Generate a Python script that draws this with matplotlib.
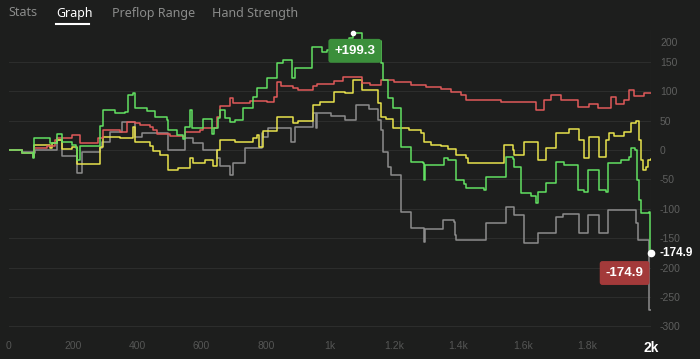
import matplotlib
matplotlib.use("Agg")
import matplotlib.pyplot as plt

# ---------------------------------------------------------------------------
# Data — cumulative winnings (big blinds) per hand
# ---------------------------------------------------------------------------

GREEN_X = [0, 40, 75, 78, 128, 150, 165, 197, 209, 212, 222, 284, 293, 331, 362, 371,
           387, 393, 431, 456, 493, 496, 524, 543, 549, 565, 571, 605, 633, 640, 652,
           658, 674, 690, 705, 730, 761, 774, 805, 836, 855, 883, 892, 945, 975, 992,
           1020, 1060, 1073, 1101, 1158, 1164, 1182, 1195, 1220, 1251, 1289, 1292, 1295,
           1354, 1367, 1392, 1416, 1423, 1479, 1485, 1548, 1569, 1572, 1594, 1626, 1641,
           1647, 1672, 1704, 1729, 1772, 1791, 1803, 1838, 1860, 1866, 1906, 1931, 1938,
           1950, 1956, 1962, 1969, 1994, 1996, 2000]
GREEN_Y = [0, -5, -13.6, 20.4, 11.9, 27.2, 13.6, 8.5, 3.4, -17, 6.8, 40.8, 68, 62.9, 64.6,
           93.5, 96.9, 71.4, 66.3, 56.1, 51, 34, 25.5, 18.7, 39.1, 68, 37.4, 52.7, 27.2,
           37.4, 54.4, 68, 54.4, 47.6, 51, 71.4, 90.1, 105.4, 122.4, 147.9, 153, 122.4,
           139.4, 175.1, 166.6, 170, 180, 190, 199.3, 185, 147.9, 119, 88.4, 71.4, 5.1,
           -20.4, -22.1, -51, -25.5, -13.6, -17, -51, -57.8, -64.6, -68, -45.9, -11.9,
           -15.3, -28.9, -73.1, -78.2, -90.1, -71.4, -56.1, -20.4, -25.5, -68, -71.4,
           -34, -68, -71.4, -22.1, -17, -11.9, 3.4, 0, -51, -85, -107.1, -105.4,
           -174.9, -174.9]

RED_X = [0, 40, 75, 78, 118, 144, 150, 197, 222, 278, 293, 346, 368, 393, 409, 440, 449,
         462, 502, 543, 549, 596, 605, 649, 658, 690, 699, 752, 805, 824, 836, 846, 886,
         899, 948, 961, 1011, 1042, 1101, 1126, 1158, 1198, 1251, 1298, 1345, 1376, 1407,
         1423, 1532, 1641, 1666, 1688, 1719, 1772, 1806, 1835, 1875, 1891, 1916, 1931,
         1947, 1978, 2000]
RED_Y = [0, -5, -11.9, 3.4, 6.8, 17, 20.4, 25.5, 11.9, 20.4, 34, 30.6, 47.6, 45.9, 42.5,
         39.1, 34, 27.2, 23.8, 22.1, 30.6, 34, 37.4, 56.1, 74.8, 88.4, 79.9, 83.3, 81.6,
         90.1, 115.6, 108.8, 105.4, 102, 108.8, 112.2, 117.3, 124.1, 113.9, 110.5, 119,
         115.6, 110.5, 107.1, 103.7, 98.6, 93.5, 85, 81.6, 68, 85, 93.5, 85, 73.1, 78.2,
         71.4, 90.1, 78.2, 85, 102, 91.8, 96.9, 96.9]

YELLOW_X = [0, 40, 75, 78, 128, 134, 150, 165, 197, 212, 284, 293, 346, 387, 393, 440,
            449, 471, 496, 527, 565, 574, 611, 637, 649, 658, 705, 761, 774, 780, 792,
            836, 886, 899, 948, 970, 1011, 1048, 1073, 1101, 1151, 1158, 1173, 1195,
            1245, 1282, 1292, 1314, 1345, 1367, 1392, 1423, 1429, 1541, 1569, 1572, 1604,
            1647, 1672, 1704, 1744, 1775, 1791, 1806, 1838, 1860, 1869, 1884, 1916, 1938,
            1953, 1962, 1969, 1975, 1984, 1991, 2000]
YELLOW_Y = [0, -5, -11.9, 8.5, 3.4, 11.9, 17, 1.7, 5.1, -23.8, 5.1, 22.1, 20.4, 39.1,
            13.6, 6.8, -1.7, -8.5, -34, -30.6, -13.6, -22.1, -17, -27.2, 0, 17, 13.6,
            20.4, 25.5, 5.1, 32.3, 56.1, 45.9, 49.3, 76.5, 81.6, 98.6, 96.9, 119, 102,
            79.9, 56.1, 52.7, 37.4, 34, 28.9, 13.6, 8.5, 6.8, 1.7, -8.5, -13.6, -22.1,
            8.5, 0, -8.5, 13.6, -17, 3.4, 28.9, 35.7, 17, -13.6, 22.1, -11.9, 17, 28.9,
            23.8, 30.6, 45.9, 49.3, 17, -17, -34, -28.9, -17, -15]

GRAY_X = [0, 40, 75, 81, 150, 165, 212, 228, 284, 290, 315, 353, 393, 415, 496, 549,
          574, 605, 649, 658, 690, 699, 736, 789, 792, 808, 877, 892, 948, 955, 961,
          1002, 1048, 1080, 1120, 1151, 1158, 1164, 1182, 1189, 1220, 1251, 1292, 1295,
          1351, 1385, 1388, 1392, 1485, 1548, 1572, 1604, 1647, 1704, 1725, 1775, 1803,
          1838, 1866, 1953, 1959, 1994, 2000]
GRAY_Y = [0, -3, -5.1, 0, 17, -10.2, -39.1, -3.4, 3.4, 13.6, 30.6, 47.6, 22.1, 28.9, 0,
          20.4, 11.9, 0, -13.6, -27.2, -42.5, -22.1, 3.4, 28.9, 22.1, 37.4, 13.6, 39.1,
          62.9, 37.4, 62.9, 57.8, 51, 76.5, 69.7, 51, 34, -3.4, -28.9, -42.5, -105.4,
          -132.6, -156.4, -134.3, -119, -122.4, -144.5, -153, -124.1, -96.9, -110.5,
          -158.1, -141.1, -113.9, -108.8, -141.1, -110.5, -141.1, -102, -124.1, -153,
          -272, -272]

TABS = ["Stats", "Graph", "Preflop Range", "Hand Strength"]
X_TICKS = [0, 200, 400, 600, 800, 1000, 1200, 1400, 1600, 1800, 2000]
X_LABELS = ["0", "200", "400", "600", "800", "1k", "1.2k", "1.4k", "1.6k", "1.8k", "2k"]
Y_TICKS = [-300, -250, -200, -150, -100, -50, 0, 50, 100, 150]

PEAK_X, PEAK_Y = 1073, 199.3
END_X, END_Y = 2000, -174.9

BG = "#1d1e1d"
GRID = "#2c2d2c"

fig = plt.figure(figsize=(7, 3.59), dpi=100)
fig.patch.set_facecolor(BG)
ax = fig.add_axes([9 / 700, 29 / 359, 642 / 700, 300 / 359])
ax.set_facecolor(BG)
for s in ax.spines.values():
    s.set_visible(False)

ax.set_xlim(0, 2000)
ax.set_ylim(-306, 204)

# grid
for v in Y_TICKS:
    ax.axhline(v, color=GRID, lw=0.8, zorder=0)
ax.axvline(2000, color="#303130", lw=0.8, zorder=0)

# series
ax.step(GRAY_X, GRAY_Y, where="post", color="#8c8c8c", lw=1.1, zorder=2)
ax.step(YELLOW_X, YELLOW_Y, where="post", color="#e8e24c", lw=1.1, zorder=3)
ax.step(RED_X, RED_Y, where="post", color="#e05a5a", lw=1.1, zorder=4)
ax.step(GREEN_X, GREEN_Y, where="post", color="#62e062", lw=1.1, zorder=5)

# axes ticks
ax.yaxis.tick_right()
ax.set_yticks(Y_TICKS)
ax.set_yticklabels([str(v) for v in Y_TICKS])
ax.tick_params(axis="y", length=0, pad=6.5, labelsize=7.5, labelcolor="#5e5f5e")
ax.annotate("200", xy=(1, 200), xycoords=("axes fraction", "data"),
            xytext=(6.5, -8), textcoords="offset points", va="center",
            fontsize=7.5, color="#5e5f5e", family="Liberation Sans")
ax.set_xticks(X_TICKS)
ax.set_xticklabels(X_LABELS)
ax.tick_params(axis="x", length=0, pad=8, labelsize=7.5, labelcolor="#555655")
for lab in ax.get_xticklabels() + ax.get_yticklabels():
    lab.set_family("Liberation Sans")
last = ax.get_xticklabels()[-1]
last.set_color("white")
last.set_fontweight("bold")
last.set_fontsize(10)

# peak label
ax.plot([PEAK_X], [PEAK_Y], "o", ms=3, color="white", zorder=7)
ax.annotate(f"+{PEAK_Y:.1f}", xy=(PEAK_X, PEAK_Y), xytext=(1, -13),
            textcoords="offset points", ha="center", va="center",
            fontsize=9.5, fontweight="bold", color="white", family="Liberation Sans",
            bbox=dict(boxstyle="round,pad=0.45,rounding_size=0.2", fc="#3b8f3b", ec="none"),
            zorder=8)

# end label
ax.plot([END_X], [END_Y], "o", ms=4.5, color="white", zorder=7, clip_on=False)
ax.annotate(f"{END_Y:.1f}", xy=(END_X, END_Y), xytext=(-19, -14.5),
            textcoords="offset points", ha="center", va="center",
            fontsize=9.5, fontweight="bold", color="white", family="Liberation Sans",
            bbox=dict(boxstyle="round,pad=0.45,rounding_size=0.2", fc="#a33a3a", ec="none"),
            zorder=8)
ax.annotate(f"{END_Y:.1f}", xy=(1, END_Y), xycoords=("axes fraction", "data"),
            xytext=(6, 0), textcoords="offset points", va="center",
            fontsize=8.5, fontweight="bold", color="white", family="Liberation Sans")

# tab bar
tab_x = [8, 56, 112, 212]
for name, tx in zip(TABS, tab_x):
    active = name == "Graph"
    fig.text(tx / 700, 1 - 13 / 359, name, ha="left", va="center", fontsize=9,
             color="white" if active else "#8a8b8a", family="Noto Sans")
fig.add_artist(plt.Line2D([56 / 700, 89 / 700], [1 - 23.5 / 359] * 2,
                          color="white", lw=1.5))

fig.savefig("out.png", dpi=100, facecolor=fig.get_facecolor())
